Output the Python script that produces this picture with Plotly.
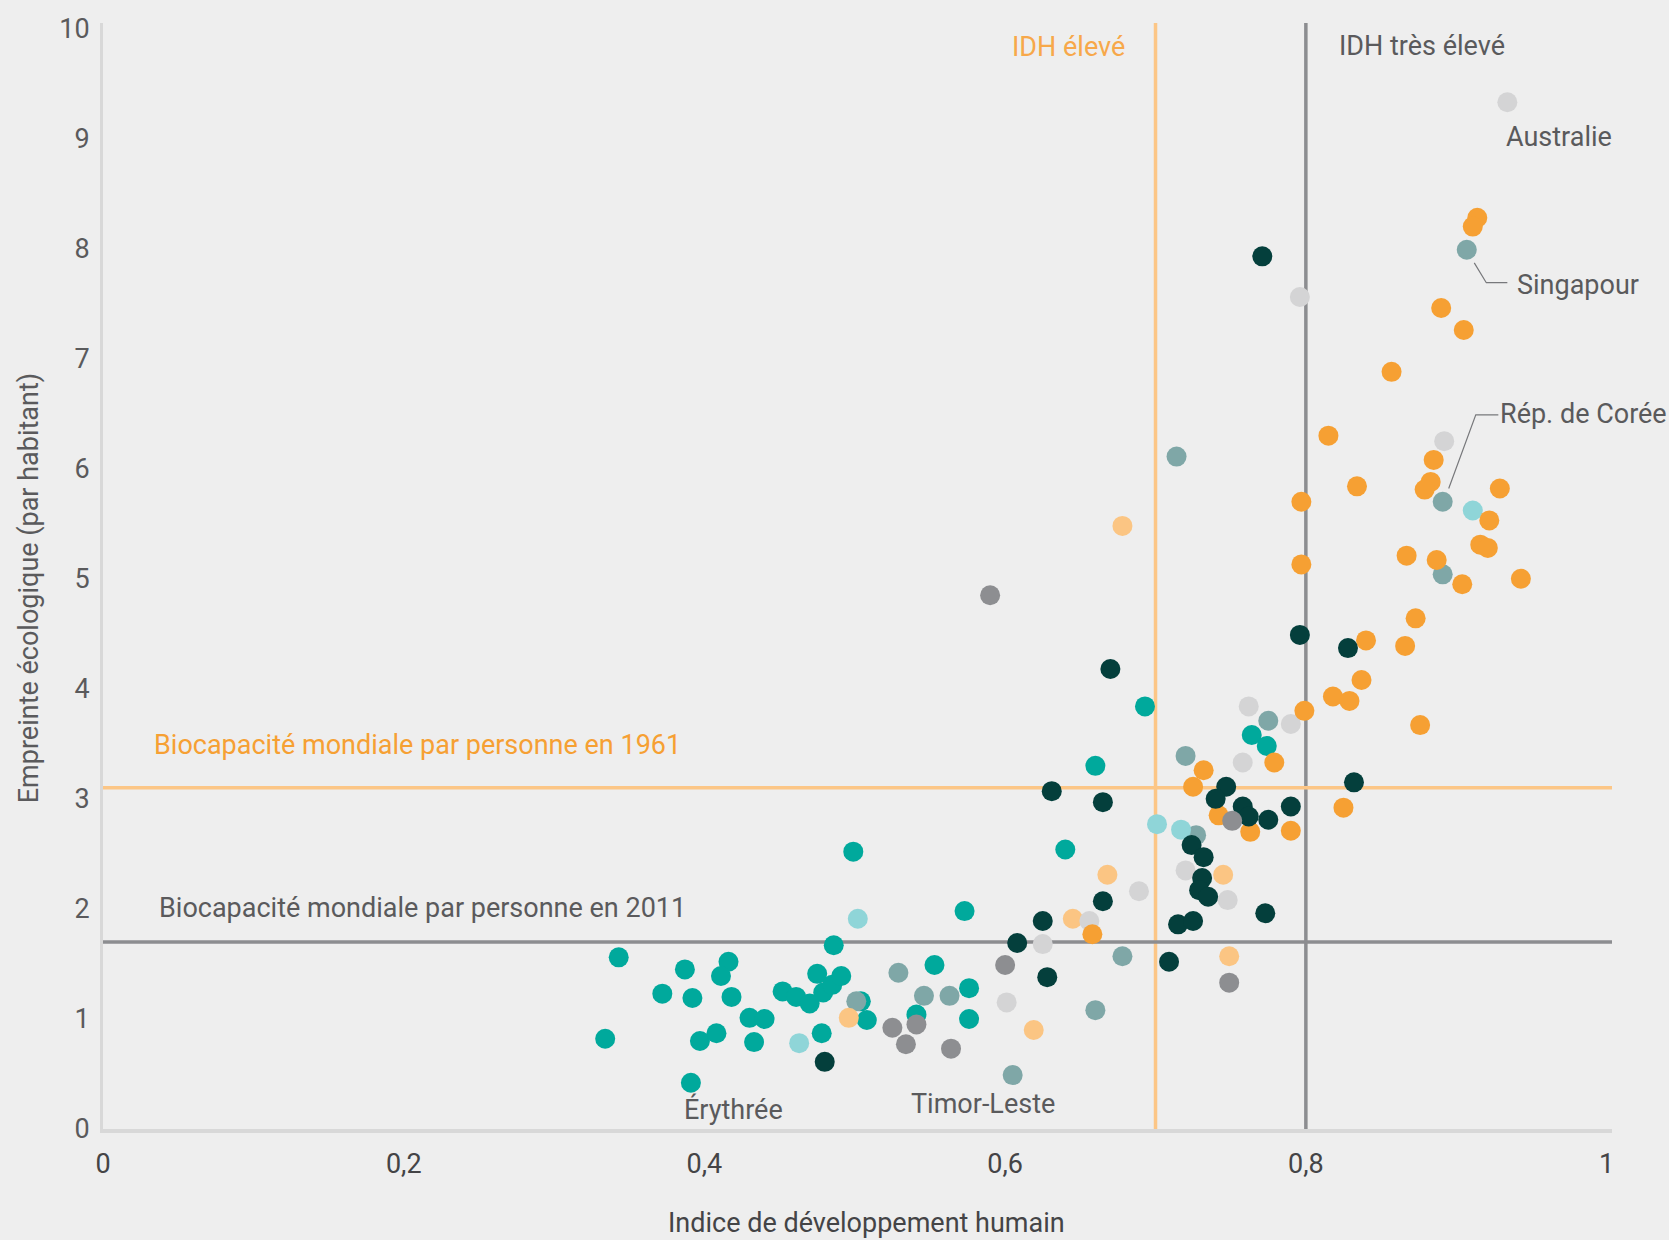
import plotly.graph_objects as go

# ---------------- data ----------------
orange_x = [0.914, 0.911, 0.890, 0.905, 0.857, 0.815, 0.885, 0.883, 0.879, 0.929, 0.834, 0.922,
            0.916, 0.921, 0.797, 0.797, 0.867, 0.887, 0.904, 0.943, 0.873, 0.866, 0.840, 0.837,
            0.818, 0.829, 0.799, 0.876, 0.779, 0.732, 0.725, 0.825, 0.742, 0.763, 0.790, 0.658]
orange_y = [8.28, 8.20, 7.46, 7.26, 6.88, 6.30, 6.08, 5.88, 5.81, 5.82, 5.84, 5.53,
            5.31, 5.28, 5.70, 5.13, 5.21, 5.17, 4.95, 5.00, 4.64, 4.39, 4.44, 4.08,
            3.93, 3.89, 3.80, 3.67, 3.33, 3.26, 3.11, 2.92, 2.85, 2.70, 2.71, 1.77]

light_orange_x = [0.678, 0.668, 0.645, 0.745, 0.749, 0.496, 0.619]
light_orange_y = [5.48, 2.31, 1.91, 2.31, 1.57, 1.01, 0.90]

teal_x = [0.499, 0.573, 0.486, 0.343, 0.387, 0.416, 0.411, 0.372, 0.392, 0.418, 0.430, 0.440,
          0.334, 0.397, 0.408, 0.433, 0.391, 0.452, 0.461, 0.470, 0.475, 0.479, 0.485, 0.491,
          0.478, 0.504, 0.508, 0.553, 0.576, 0.576, 0.541, 0.640, 0.660, 0.693, 0.764, 0.774]
teal_y = [2.52, 1.98, 1.67, 1.56, 1.45, 1.52, 1.39, 1.23, 1.19, 1.20, 1.01, 1.00,
          0.82, 0.80, 0.87, 0.79, 0.42, 1.25, 1.20, 1.14, 1.41, 1.24, 1.31, 1.39,
          0.87, 1.16, 0.99, 1.49, 1.28, 1.00, 1.04, 2.54, 3.30, 3.84, 3.58, 3.48]

light_cyan_x = [0.502, 0.463, 0.701, 0.717, 0.911]
light_cyan_y = [1.91, 0.78, 2.77, 2.72, 5.62]

dark_green_x = [0.771, 0.796, 0.828, 0.670, 0.832, 0.631, 0.665, 0.747, 0.740, 0.758, 0.762, 0.775,
                0.790, 0.724, 0.732, 0.731, 0.729, 0.735, 0.773, 0.715, 0.725, 0.665, 0.625, 0.608,
                0.628, 0.709, 0.480]
dark_green_y = [7.93, 4.49, 4.37, 4.18, 3.15, 3.07, 2.97, 3.11, 3.00, 2.93, 2.84, 2.81,
                2.93, 2.58, 2.47, 2.28, 2.17, 2.11, 1.96, 1.86, 1.89, 2.07, 1.89, 1.69,
                1.38, 1.52, 0.61]

gray_teal_x = [0.907, 0.714, 0.891, 0.891, 0.775, 0.720, 0.727, 0.678, 0.660, 0.605, 0.501, 0.529, 0.546, 0.563]
gray_teal_y = [7.99, 6.11, 5.70, 5.04, 3.71, 3.39, 2.67, 1.57, 1.08, 0.49, 1.16, 1.42, 1.21, 1.21]

mid_gray_x = [0.590, 0.751, 0.749, 0.600, 0.541, 0.525, 0.534, 0.564]
mid_gray_y = [4.85, 2.80, 1.33, 1.49, 0.95, 0.92, 0.77, 0.73]

light_gray_x = [0.934, 0.796, 0.892, 0.762, 0.790, 0.758, 0.720, 0.748, 0.689, 0.656, 0.625, 0.601]
light_gray_y = [9.33, 7.56, 6.25, 3.84, 3.68, 3.33, 2.35, 2.08, 2.16, 1.89, 1.68, 1.15]

idh_high = 0.7
idh_very_high = 0.8
biocap_1961 = 3.1
biocap_2011 = 1.7

x_ticks = [0, 0.2, 0.4, 0.6, 0.8, 1]
x_tick_labels = ["0", "0,2", "0,4", "0,6", "0,8", "1"]
y_ticks = list(range(0, 11))

labelled = {"Australie": (0.934, 9.33), "Singapour": (0.907, 7.99), "Rép. de Corée": (0.891, 5.70),
            "Érythrée": (0.391, 0.42), "Timor-Leste": (0.605, 0.49)}

# ---------------- style ----------------
FONT = "Roboto, Liberation Sans Narrow, sans-serif"
FS = 27
BG = "#eeeeee"
TXT = "#5a5a5c"
ORANGE = "#f6a033"
LORANGE = "#fbc583"
XMAX = 1.0036
YMAX = 10.05

fig = go.Figure()

groups = [
    (teal_x, teal_y, "#00a99c"),
    (gray_teal_x, gray_teal_y, "#7fa7a7"),
    (light_cyan_x, light_cyan_y, "#8fd5d8"),
    (light_orange_x, light_orange_y, LORANGE),
    (light_gray_x, light_gray_y, "#d4d4d5"),
    (orange_x, orange_y, ORANGE),
    (dark_green_x, dark_green_y, "#043f3c"),
    (mid_gray_x, mid_gray_y, "#8d8e91"),
]
for gx, gy, col in groups:
    fig.add_trace(go.Scatter(x=gx, y=gy, mode="markers",
                             marker=dict(size=20, color=col, line=dict(width=0)),
                             showlegend=False, hoverinfo="x+y"))

# reference lines
fig.add_shape(type="line", x0=idh_high, x1=idh_high, y0=0, y1=YMAX, xref="x", yref="y",
              line=dict(color="#fcc686", width=3.5), layer="below")
fig.add_shape(type="line", x0=idh_very_high, x1=idh_very_high, y0=0, y1=YMAX, xref="x", yref="y",
              line=dict(color="#8c8d90", width=3.5), layer="below")
fig.add_shape(type="line", x0=0, x1=XMAX, y0=biocap_1961, y1=biocap_1961, xref="x", yref="y",
              line=dict(color="#fcc686", width=3.5), layer="below")
fig.add_shape(type="line", x0=0, x1=XMAX, y0=biocap_2011, y1=biocap_2011, xref="x", yref="y",
              line=dict(color="#8c8d90", width=3.5), layer="below")

# leader lines
sx, sy = labelled["Singapour"]
fig.add_trace(go.Scatter(x=[sx + 0.005, sx + 0.013, sx + 0.027], y=[sy - 0.12, sy - 0.30, sy - 0.30],
                         mode="lines", line=dict(color="#77787b", width=1.2),
                         showlegend=False, hoverinfo="skip"))
kx, ky = labelled["Rép. de Corée"]
fig.add_trace(go.Scatter(x=[kx + 0.004, kx + 0.022, kx + 0.037], y=[ky + 0.12, ky + 0.79, ky + 0.79],
                         mode="lines", line=dict(color="#77787b", width=1.2),
                         showlegend=False, hoverinfo="skip"))

def ann(text, x, y, color=TXT, xanchor="left", size=FS):
    fig.add_annotation(x=x, y=y, xref="x", yref="y", text=text, showarrow=False,
                       xanchor=xanchor, yanchor="middle",
                       font=dict(family=FONT, size=size, color=color))

ann("IDH élevé", idh_high - 0.019, 9.835, color="#f7a84a", xanchor="right")
ann("IDH très élevé", idh_very_high + 0.021, 9.845)
ann("Australie", 0.932, 9.01)
ann("Singapour", 0.939, 7.67)
ann("Rép. de Corée", 0.928, 6.50)
ann("Biocapacité mondiale par personne en 1961", 0.0325, 3.49, color=ORANGE)
ann("Biocapacité mondiale par personne en 2011", 0.036, 2.01)
ann("Érythrée", 0.385, 0.18)
ann("Timor-Leste", 0.536, 0.23)

# axis titles
fig.add_annotation(x=0.508, y=-0.085, xref="x", yref="paper", text="Indice de développement humain",
                   showarrow=False, xanchor="center", yanchor="middle",
                   font=dict(family=FONT, size=FS, color="#444446"))
fig.add_annotation(x=-0.049, y=0.489, xref="paper", yref="paper", text="Empreinte écologique (par habitant)",
                   showarrow=False, textangle=-90, xanchor="center", yanchor="middle",
                   font=dict(family=FONT, size=FS, color=TXT))

fig.update_layout(
    width=1669, height=1240,
    margin=dict(l=103, r=57, t=23, b=111),
    paper_bgcolor=BG, plot_bgcolor=BG,
    font=dict(family=FONT, size=FS, color=TXT),
    showlegend=False,
)
fig.update_xaxes(range=[0, XMAX], tickvals=x_ticks, ticktext=x_tick_labels,
                 showgrid=False, zeroline=False, showline=True, linecolor="#d8d8d8", linewidth=4,
                 ticks="", ticklabelstandoff=8, tickfont=dict(family=FONT, size=FS, color="#444446"))
fig.update_yaxes(range=[0, YMAX], tickvals=y_ticks,
                 showgrid=False, zeroline=False, showline=True, linecolor="#d8d8d8", linewidth=3,
                 ticks="", ticklabelstandoff=5, tickfont=dict(family=FONT, size=FS, color=TXT))

fig.write_html("out.html", config={"displayModeBar": False},
               post_script="document.body.style.margin='0';document.body.style.padding='0';"
                           "document.body.style.background='#eeeeee';document.body.style.overflow='hidden';")
